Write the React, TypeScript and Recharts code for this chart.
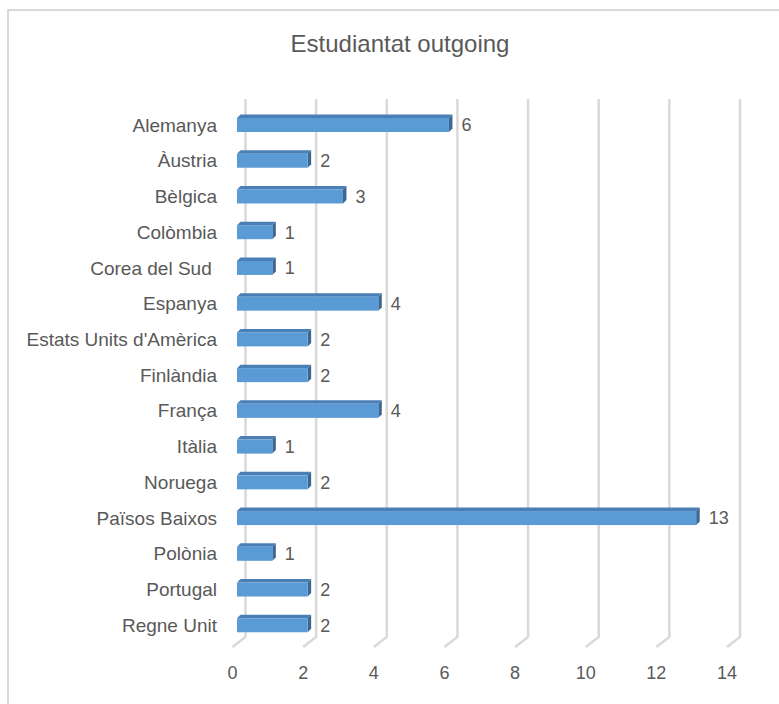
import { BarChart, Bar, XAxis, YAxis, CartesianGrid, LabelList } from 'recharts';

// Estudiantat outgoing — barres horitzontals amb aspecte 3D (estil Excel)

const countries = [
  'Alemanya',
  'Àustria',
  'Bèlgica',
  'Colòmbia',
  'Corea del Sud ',
  'Espanya',
  "Estats Units d'Amèrica",
  'Finlàndia',
  'França',
  'Itàlia',
  'Noruega',
  'Països Baixos',
  'Polònia',
  'Portugal',
  'Regne Unit',
];
const students = [6, 2, 3, 1, 1, 4, 2, 2, 4, 1, 2, 13, 1, 2, 2];
const xTicks = [0, 2, 4, 6, 8, 10, 12, 14];

const data = countries.map((country, i) => ({ country, value: students[i] }));

const TEXT = '#595959';
const FONT = '"Liberation Sans", Arial, sans-serif';
// profunditat del "3D"
const SHIFT = 4.5;
const DEPTH = 3.5;

function Bar3D(props: any) {
  const { x, y, width, height } = props;
  const fx = x + SHIFT;
  const r = fx + width;
  return (
    <g>
      <polygon
        points={`${fx},${y} ${fx + DEPTH},${y - DEPTH} ${r + DEPTH},${y - DEPTH} ${r},${y}`}
        fill="#4a7fb5"
      />
      <polygon
        points={`${r},${y} ${r + DEPTH},${y - DEPTH} ${r + DEPTH},${y + height - DEPTH} ${r},${y + height}`}
        fill="#3b6793"
      />
      <rect x={fx} y={y} width={width} height={height} fill="#5b9bd5" />
    </g>
  );
}

function gridLine(p: any) {
  const { x1, y1, y2, index } = p;
  return (
    <path
      key={`g-${index}`}
      d={`M${x1 + 13},${y1 - 8} L${x1 + 13},${y2 - 6} L${x1},${y2 + 4}`}
      fill="none"
      stroke="#d9d9d9"
      strokeWidth={2.5}
    />
  );
}

function CategoryTick(p: any) {
  return (
    <text
      x={p.x}
      y={p.y}
      dy="0.355em"
      textAnchor="end"
      fill={TEXT}
      fontSize={19}
      fontFamily={FONT}
      style={{ whiteSpace: 'pre' }}
    >
      {p.payload.value}
    </text>
  );
}

function ValueTick(p: any) {
  return (
    <text x={p.x} y={p.y} dy="0.355em" textAnchor="middle" fill={TEXT} fontSize={18} fontFamily={FONT}>
      {p.payload.value}
    </text>
  );
}

function ValueLabel(p: any) {
  const { x, y, width, height, value } = p;
  return (
    <text
      x={x + width + SHIFT + 12.5}
      y={y + height / 2}
      dy="0.355em"
      textAnchor="start"
      fill={TEXT}
      fontSize={18}
      fontFamily={FONT}
    >
      {value}
    </text>
  );
}

export default function App() {
  return (
    <div
      style={{
        position: 'absolute',
        left: 7,
        top: 9,
        width: 772,
        height: 695,
        boxSizing: 'border-box',
        borderTop: '2px solid #d9d9d9',
        borderLeft: '2px solid #d9d9d9',
        fontFamily: FONT,
      }}
    >
      <div
        style={{
          position: 'absolute',
          left: 391,
          top: 21,
          transform: 'translateX(-50%)',
          fontSize: 24,
          lineHeight: '24px',
          color: TEXT,
          whiteSpace: 'nowrap',
        }}
      >
        Estudiantat outgoing
      </div>
      <BarChart
        width={758}
        height={684}
        data={data}
        layout="vertical"
        margin={{ top: 96, right: 40, bottom: 0, left: 0 }}
      >
        <CartesianGrid horizontal={false} vertical={gridLine} />
        <XAxis
          type="number"
          domain={[0, 14]}
          ticks={xTicks}
          axisLine={false}
          tickLine={false}
          tickSize={0}
          tickMargin={30}
          height={52}
          tick={ValueTick}
        />
        <YAxis
          type="category"
          dataKey="country"
          width={223.5}
          axisLine={false}
          tickLine={false}
          tickSize={0}
          tickMargin={15.5}
          interval={0}
          tick={CategoryTick}
        />
        <Bar dataKey="value" barSize={14} shape={Bar3D} isAnimationActive={false}>
          <LabelList dataKey="value" content={ValueLabel} />
        </Bar>
      </BarChart>
    </div>
  );
}
